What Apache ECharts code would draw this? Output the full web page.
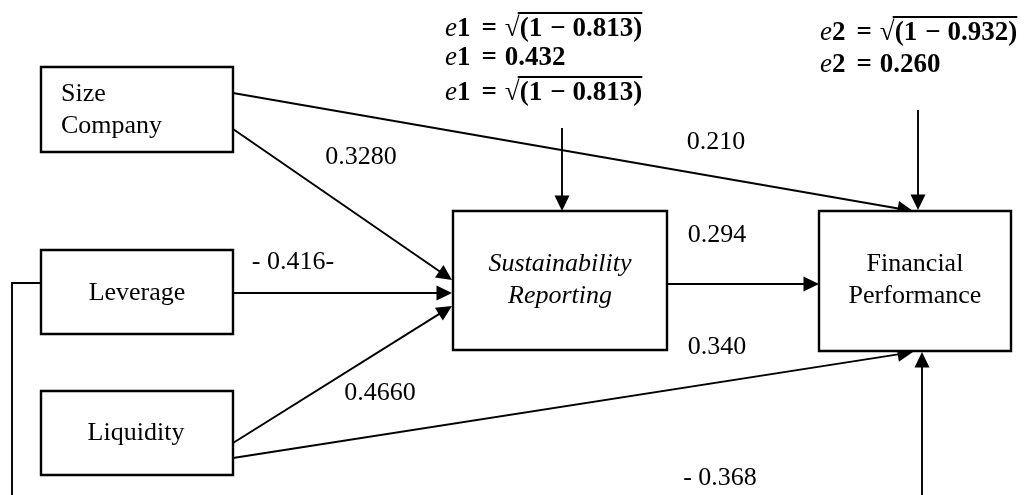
<!DOCTYPE html>
<html>
<head>
<meta charset="utf-8">
<script src="https://cdn.jsdelivr.net/npm/echarts@6/dist/echarts.min.js"></script>
<style>
html,body{margin:0;padding:0;background:#fff;}
#chart{width:1034px;height:495px;}
</style>
</head>
<body>
<div id="chart"></div>
<script>
// ---- content (text & values) ----
const nodeNames = ['Size Company', 'Leverage', 'Liquidity', 'Sustainability Reporting', 'Financial Performance'];
const nodeLines = [['Size', 'Company'], ['Leverage'], ['Liquidity'], ['Sustainability', 'Reporting'], ['Financial', 'Performance']];
const pathNames = ['Size→SR', 'Leverage→SR', 'Liquidity→SR', 'Size→FP', 'SR→FP', 'Liquidity→FP', 'Leverage→FP'];
const pathCoef = ['0.3280', '- 0.416-', '0.4660', '0.210', '0.294', '0.340', '- 0.368'];
// formula tokens: [variable, index, sqrt?, radicand/value, rest]
const e1Lines = [['e', '1', '√', '(1', '0.813)'], ['e', '1', '', '0.432', ''], ['e', '1', '√', '(1', '0.813)']];
const e2Lines = [['e', '2', '√', '(1', '0.932)'], ['e', '2', '', '0.260', '']];

// ---- layout (diagram coordinates, px-like units) ----
const nodeBox = [[41, 67, 233, 152], [41, 250, 233, 334], [41, 391, 233, 475], [453, 211, 667, 350], [819, 211, 1011, 351]];
const nodeTextPos = [
  [[61, 94, 'left'], [61, 126, 'left']],
  [[137, 293, 'center']],
  [[136, 433, 'center']],
  [[560, 264, 'center'], [560, 296, 'center']],
  [[915, 264, 'center'], [915, 296, 'center']]
];
const nodeItalic = [false, false, false, true, false];
const pathPoints = [
  [[233, 129], [452, 280]],
  [[233, 293], [452, 293]],
  [[233, 443], [452, 306]],
  [[233, 93], [913, 211]],
  [[667, 284], [819, 284]],
  [[233, 458], [913, 352]],
  [[41, 283], [12, 283], [12, 499], [922, 499], [922, 352]]
];
const pathLabelPos = [[361, 157], [293, 262], [380, 393], [716, 142], [717, 235], [717, 347], [720, 478]];
const errPoints = [[[562, 128], [562, 211]], [[918, 110], [918, 210]]];
const e1Pos = [[445, 29], [445, 58], [445, 93]];
const e2Pos = [[820, 33], [820, 65]];

const SERIF = '"Liberation Serif", "Times New Roman", serif';
const FS = 26;
const FFS = 27;

const measureCtx = document.createElement('canvas').getContext('2d');
function tw(text, font) { measureCtx.font = font; return measureCtx.measureText(text).width; }
const fontI = 'italic ' + FFS + 'px ' + SERIF;
const fontB = 'bold ' + FFS + 'px ' + SERIF;

function arrowShapes(api, pts, withArrow) {
  const c = pts.map(p => api.coord(p));
  const out = [];
  const n = c.length;
  const tip = c[n - 1], prev = c[n - 2];
  const dx = tip[0] - prev[0], dy = tip[1] - prev[1];
  const L = Math.sqrt(dx * dx + dy * dy);
  const ux = dx / L, uy = dy / L;
  const AL = 15.5, AW = 7.5;
  const lineEnd = withArrow ? [tip[0] - ux * (AL - 2), tip[1] - uy * (AL - 2)] : tip;
  const linePts = c.slice(0, n - 1).concat([lineEnd]);
  out.push({ type: 'polyline', shape: { points: linePts }, style: { stroke: '#000', lineWidth: 1.9, fill: null } });
  if (withArrow) {
    const bx = tip[0] - ux * AL, by = tip[1] - uy * AL;
    out.push({ type: 'polygon', shape: { points: [tip, [bx - uy * AW, by + ux * AW], [bx + uy * AW, by - ux * AW]] }, style: { fill: '#000', stroke: null } });
  }
  return out;
}

function formulaElems(api, parts, pos) {
  const p = api.coord(pos);
  const els = [];
  let x = p[0];
  const put = (t, f) => {
    els.push({ type: 'text', style: { text: t, x: x, y: p[1], font: f, fill: '#000', align: 'left', verticalAlign: 'middle' } });
    x += tw(t, f);
  };
  put(parts[0], fontI);
  put(parts[1], fontB);
  x += 11;
  put('=', fontB);
  x += 8;
  if (parts[2]) {
    put(parts[2], fontB);
    const overStart = x - 2;
    put(parts[3], fontB);
    x += 8;
    put('−', fontB);
    x += 7;
    put(parts[4], fontB);
    els.push({ type: 'line', shape: { x1: overStart, y1: p[1] - 16, x2: x, y2: p[1] - 16 }, style: { stroke: '#000', lineWidth: 1.8 } });
  } else {
    put(parts[3], fontB);
  }
  return els;
}

const chart = echarts.init(document.getElementById('chart'), null, { renderer: 'canvas' });
chart.setOption({
  backgroundColor: '#ffffff',
  animation: false,
  grid: { left: 0, right: 0, top: 0, bottom: 0 },
  xAxis: { type: 'value', min: 0, max: 1034, show: false },
  yAxis: { type: 'value', min: 0, max: 495, inverse: true, show: false },
  series: [
    {
      name: 'Paths',
      type: 'custom',
      clip: true,
      data: pathNames.map((n, i) => ({ name: n, value: [i, 0] })),
      renderItem: function (params, api) {
        const i = params.dataIndex;
        const children = arrowShapes(api, pathPoints[i], true);
        const lp = api.coord(pathLabelPos[i]);
        children.push({ type: 'text', style: { text: pathCoef[i], x: lp[0], y: lp[1], font: FS + 'px ' + SERIF, fill: '#000', align: 'center', verticalAlign: 'middle' } });
        return { type: 'group', children: children };
      }
    },
    {
      name: 'Errors',
      type: 'custom',
      data: [{ name: 'e1', value: [0, 0] }, { name: 'e2', value: [1, 0] }],
      renderItem: function (params, api) {
        const i = params.dataIndex;
        let children = arrowShapes(api, errPoints[i], true);
        const lines = i === 0 ? e1Lines : e2Lines;
        const pos = i === 0 ? e1Pos : e2Pos;
        lines.forEach((parts, k) => { children = children.concat(formulaElems(api, parts, pos[k])); });
        return { type: 'group', children: children };
      }
    },
    {
      name: 'Constructs',
      type: 'custom',
      data: nodeNames.map((n, i) => ({ name: n, value: [i, 0] })),
      renderItem: function (params, api) {
        const i = params.dataIndex;
        const b = nodeBox[i];
        const p0 = api.coord([b[0], b[1]]), p1 = api.coord([b[2], b[3]]);
        const children = [{
          type: 'rect',
          shape: { x: p0[0], y: p0[1], width: p1[0] - p0[0], height: p1[1] - p0[1] },
          style: { fill: '#fff', stroke: '#000', lineWidth: 2.4 }
        }];
        nodeLines[i].forEach((t, k) => {
          const tp = nodeTextPos[i][k];
          const c = api.coord([tp[0], tp[1]]);
          children.push({ type: 'text', style: { text: t, x: c[0], y: c[1], font: (nodeItalic[i] ? 'italic ' : '') + FS + 'px ' + SERIF, fill: '#000', align: tp[2], verticalAlign: 'middle' } });
        });
        return { type: 'group', children: children };
      }
    }
  ]
});
</script>
</body>
</html>
